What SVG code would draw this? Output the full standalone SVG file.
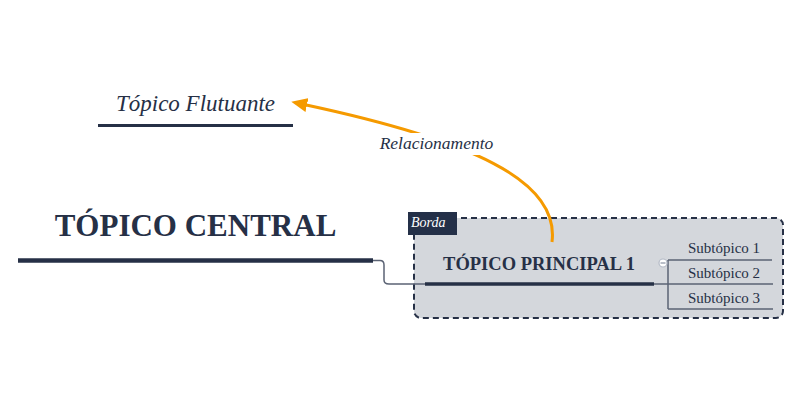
<svg xmlns="http://www.w3.org/2000/svg" width="800" height="400" viewBox="0 0 800 400">
<style>
text{font-family:"Liberation Serif","Times New Roman",serif;fill:#263046}
.b{font-weight:bold}
.i{font-style:italic}
.ul{stroke:#263046;fill:none}
.thin{stroke:#5b6374;stroke-width:1.5;fill:none}
</style>
<defs>
<marker id="arr" markerUnits="userSpaceOnUse" markerWidth="16" markerHeight="14" viewBox="0 0 16 14" refX="3" refY="7" orient="auto">
<path d="M0,0 L16,7 L0,14 z" fill="#f59a00"/>
</marker>
</defs>
<rect width="800" height="400" fill="#ffffff"/>

<g id="boundary">
<rect x="414" y="218" width="369" height="100" rx="7" fill="#d4d7dc" stroke="#263046" stroke-width="2" stroke-dasharray="6 4"/>
<rect x="408" y="212" width="49" height="23" fill="#243048"/>
<text x="411" y="227" class="i" font-size="14" style="fill:#ffffff">Borda</text>
</g>

<g id="connectors">
<path class="thin" d="M373,260.5 H380 Q384,260.5 384,265 V280 Q384,284 389,284 H425"/>
<path class="thin" d="M654,284 H773"/>
<path class="thin" d="M668,260 V309"/>
<path class="thin" d="M668,260 H772"/>
<path class="thin" d="M668,309 H773"/>
</g>

<g id="relationship">
<path d="M552,242 C560,180 470,140 304,104.5" fill="none" stroke="#f59a00" stroke-width="3" marker-end="url(#arr)"/>
<rect x="375" y="133" width="123" height="22" fill="#ffffff"/>
<text x="436.5" y="149" class="i" font-size="17.5" text-anchor="middle">Relacionamento</text>
</g>

<g id="floating-topic">
<text x="195.5" y="111" class="i" font-size="23" text-anchor="middle">Tópico Flutuante</text>
<line class="ul" x1="98" y1="125.5" x2="293" y2="125.5" stroke-width="3"/>
</g>

<g id="central-topic">
<text x="195.5" y="236" class="b" font-size="31" text-anchor="middle">TÓPICO CENTRAL</text>
<line class="ul" x1="18" y1="260.5" x2="373" y2="260.5" stroke-width="4.5"/>
</g>

<g id="main-topic">
<text x="539" y="269.5" class="b" font-size="18.5" text-anchor="middle">TÓPICO PRINCIPAL 1</text>
<line class="ul" x1="425" y1="284" x2="654" y2="284" stroke-width="3.5"/>
</g>

<g id="collapse">
<circle cx="663" cy="263" r="4" fill="#ffffff" stroke="#b4bac6" stroke-width="1.2"/>
<line x1="660.5" y1="263" x2="665.5" y2="263" stroke="#8a93a3" stroke-width="1.2"/>
</g>

<g id="subtopic-1"><text x="688" y="253" font-size="15">Subtópico 1</text></g>
<g id="subtopic-2"><text x="688" y="278" font-size="15">Subtópico 2</text></g>
<g id="subtopic-3"><text x="688" y="302.5" font-size="15">Subtópico 3</text></g>
</svg>
